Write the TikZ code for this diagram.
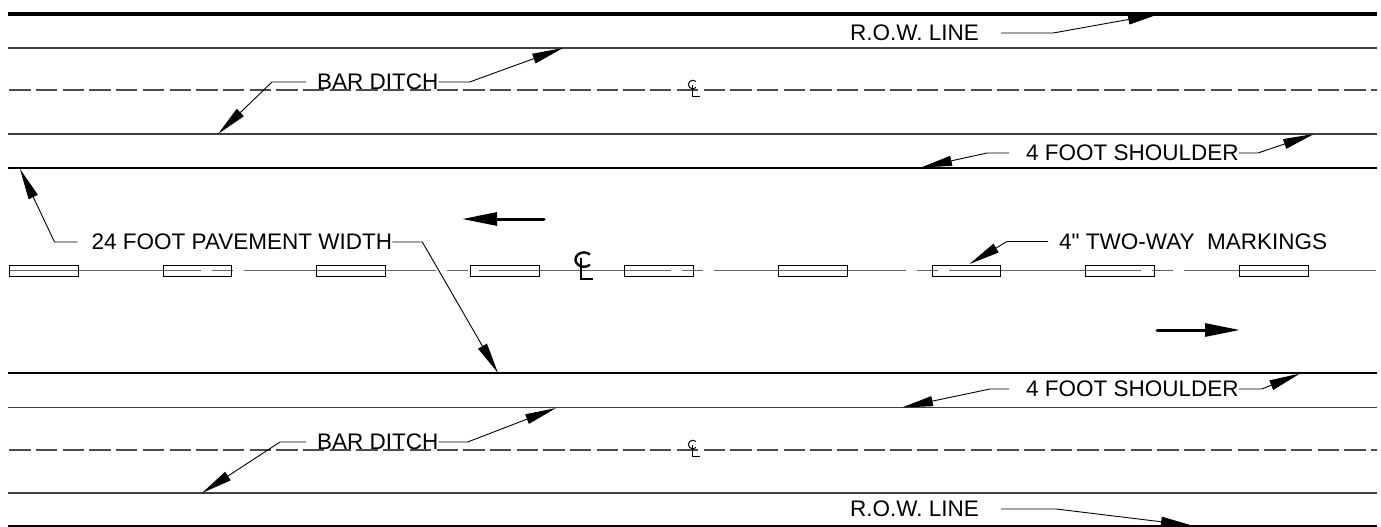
\documentclass[tikz,border=0pt]{standalone}
\usepackage{fontspec}
\newfontfamily\lblfont{Liberation Sans}
\usetikzlibrary{arrows.meta}
\begin{document}
\begin{tikzpicture}[x=1pt,y=-1pt,
  lbl/.style={inner sep=0pt, font=\lblfont\fontsize{22.5}{26}\selectfont},
  leader/.style={line width=0.9pt, -{Triangle[length=31pt,width=10pt]}},
  thinroad/.style={line width=1.2pt, black!75},
  edgeline/.style={line width=1.3pt, black},
  ditch/.style={line width=1.2pt, black!70, dash pattern=on 21.3pt off 5.4pt},
  cline/.style={line width=1.3pt, black!60, dash pattern=on 191.7pt off 10.6pt on 21pt off 11.7pt},
  stripe/.style={line width=0.9pt, black},
  traffic/.style={line width=3pt, line cap=round, -{Triangle[length=35pt,width=13pt]}},
  clbig/.style={line width=2.4pt, black},
  clsmall/.style={line width=1pt, black}
]
\useasboundingbox (0,0) rectangle (1381,527);

% horizontal lines
\draw[line width=3.2pt, black] (8,14) -- (1377,14);
\draw[thinroad] (8,48) -- (1377,48);
\draw[ditch] (9.3,90) -- (1377,90);
\draw[thinroad] (8,134) -- (1377,134);
\draw[edgeline] (8,168) -- (1377,168);
\draw[cline] (9.3,270.7) -- (1377,270.7);
\draw[edgeline] (8,373) -- (1377,373);
\draw[thinroad] (8,407.5) -- (1377,407.5);
\draw[ditch] (9.3,450) -- (1377,450);
\draw[thinroad] (8,493) -- (1377,493);
\draw[edgeline] (8,526) -- (1377,526);

% centerline marking stripes
\foreach \k in {0,...,8}{
  \pgfmathsetmacro{\bx}{9.3+153.8*\k}
  \draw[stripe] (\bx,265) rectangle ++(68.7,11.3);
}

% centerline symbols
\draw[clbig] (590,254.5) arc[start angle=-45, end angle=-315, x radius=8.5, y radius=7.2];
\draw[clbig] (581,258) -- (581,279) -- (593,279);
\draw[clsmall] (696,81.5) arc[start angle=-45, end angle=-315, x radius=4.5, y radius=4.3];
\draw[clsmall] (692.3,85) -- (692.3,96.5) -- (700,96.5);
\draw[clsmall] (696,441.5) arc[start angle=-45, end angle=-315, x radius=4.5, y radius=4.3];
\draw[clsmall] (692.3,445) -- (692.3,456.5) -- (700,456.5);

% traffic direction arrows
\coordinate (tlA) at (544,219);
\coordinate (tlB) at (462,219);
\draw[traffic] (tlA) -- (tlB);
\coordinate (trA) at (1157,330);
\coordinate (trB) at (1240,330);
\draw[traffic] (trA) -- (trB);

% labels
\node[lbl, anchor=west] (rowT) at (850,33) {R.O.W. LINE};
\node[lbl, anchor=west] (bdU) at (317,82) {BAR DITCH};
\node[lbl, anchor=west] (shU) at (1026,153) {4 FOOT SHOULDER};
\node[lbl, anchor=west] (pw) at (91.5,242) {24 FOOT PAVEMENT WIDTH};
\node[lbl, anchor=west] (mk) at (1059,241.5) {4" TWO-WAY\ \ MARKINGS};
\node[lbl, anchor=west] (shL) at (1026,389) {4 FOOT SHOULDER};
\node[lbl, anchor=west] (bdL) at (317,442) {BAR DITCH};
\node[lbl, anchor=west] (rowL) at (850,509) {R.O.W. LINE};

% leader tips
\coordinate (rowTt) at (1159,14);
\coordinate (bdUr) at (563,48);
\coordinate (bdUl) at (218,134);
\coordinate (shUl) at (921,167.5);
\coordinate (shUr) at (1314,134);
\coordinate (pwl) at (20,169);
\coordinate (pwr) at (498,373);
\coordinate (mkt) at (969.5,264);
\coordinate (shLl) at (902,407.5);
\coordinate (shLr) at (1300,373.5);
\coordinate (bdLr) at (556,408);
\coordinate (bdLl) at (202,493);
\coordinate (rowLt) at (1192,525.5);

% leaders
\draw[leader] ([xshift=22pt]rowT.east) -- ++(52,0) -- (rowTt);
\draw[leader] (bdU.east) -- ++(31,0) -- (bdUr);
\draw[leader] ([xshift=-11pt]bdU.west) -- ++(-34,0) -- (bdUl);
\draw[leader] ([xshift=-17pt]shU.west) -- ++(-22,0) -- (shUl);
\draw[leader] (shU.east) -- ++(19,0) -- (shUr);
\draw[leader] ([xshift=-14pt]pw.west) -- ++(-23,0) -- (pwl);
\draw[leader] (pw.east) -- ++(30,0) -- (pwr);
\draw[leader] ([xshift=-11pt]mk.west) -- ++(-41,0) -- (mkt);
\draw[leader] ([xshift=-17pt]shL.west) -- ++(-19,0) -- (shLl);
\draw[leader] (shL.east) -- ++(23,0) -- (shLr);
\draw[leader] (bdL.east) -- ++(29,0) -- (bdLr);
\draw[leader] ([xshift=-11pt]bdL.west) -- ++(-26,0) -- (bdLl);
\draw[leader] ([xshift=22pt]rowL.east) -- ++(55,0) -- (rowLt);
\end{tikzpicture}
\end{document}
